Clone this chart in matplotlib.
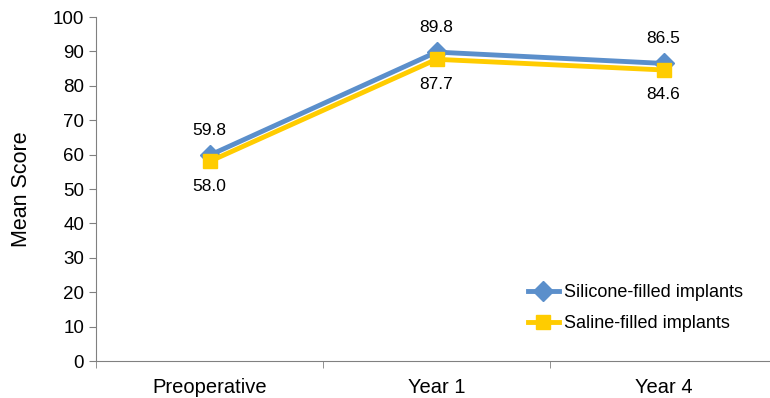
import matplotlib.pyplot as plt
from matplotlib.ticker import FixedLocator

plt.rcParams['font.family'] = ['Liberation Sans', 'DejaVu Sans']

categories = ['Preoperative', 'Year 1', 'Year 4']
silicone = [59.8, 89.8, 86.5]
saline = [58.0, 87.7, 84.6]

blue = '#5B8FCB'
yellow = '#FFCC00'

fig = plt.figure(figsize=(7.7, 3.98), dpi=100)
ax = fig.add_axes([96/770, 1 - 361/398, 681/770, 344/398])

x = range(len(categories))
ax.plot(x, silicone, color=blue, lw=3.5, marker='D', ms=10, label='Silicone-filled implants')
ax.plot(x, saline, color=yellow, lw=3.5, marker='s', ms=10, label='Saline-filled implants')

for i in x:
    ax.annotate(f'{silicone[i]:.1f}', (i, silicone[i]), xytext=(0, 18), textcoords='offset points',
                ha='center', va='center', fontsize=12.5)
    ax.annotate(f'{saline[i]:.1f}', (i, saline[i]), xytext=(0, -18), textcoords='offset points',
                ha='center', va='center', fontsize=12.5)

ax.set_xlim(-0.5, 2.5)
ax.set_ylim(0, 100)
ax.set_yticks(range(0, 101, 10))
ax.tick_params(axis='y', labelsize=13.5, length=5, color='#808080')
ax.set_xticks(list(x))
ax.set_xticklabels(categories, fontsize=14.5)
ax.tick_params(axis='x', which='major', length=0, pad=12)
ax.xaxis.set_minor_locator(FixedLocator([-0.5, 0.5, 1.5, 2.5]))
ax.tick_params(axis='x', which='minor', length=5, color='#808080')
ax.set_ylabel('Mean Score', fontsize=15.5, labelpad=15)

for s in ['top', 'right']:
    ax.spines[s].set_visible(False)
for s in ['left', 'bottom']:
    ax.spines[s].set_color('#808080')

ax.legend(loc='upper left', bbox_to_anchor=(528/770, 1 - 284/398), bbox_transform=fig.transFigure,
          frameon=False, fontsize=13, borderpad=0, borderaxespad=0,
          handlelength=1.7, handletextpad=0.3, labelspacing=0.8)

fig.savefig('out.png', dpi=100)
